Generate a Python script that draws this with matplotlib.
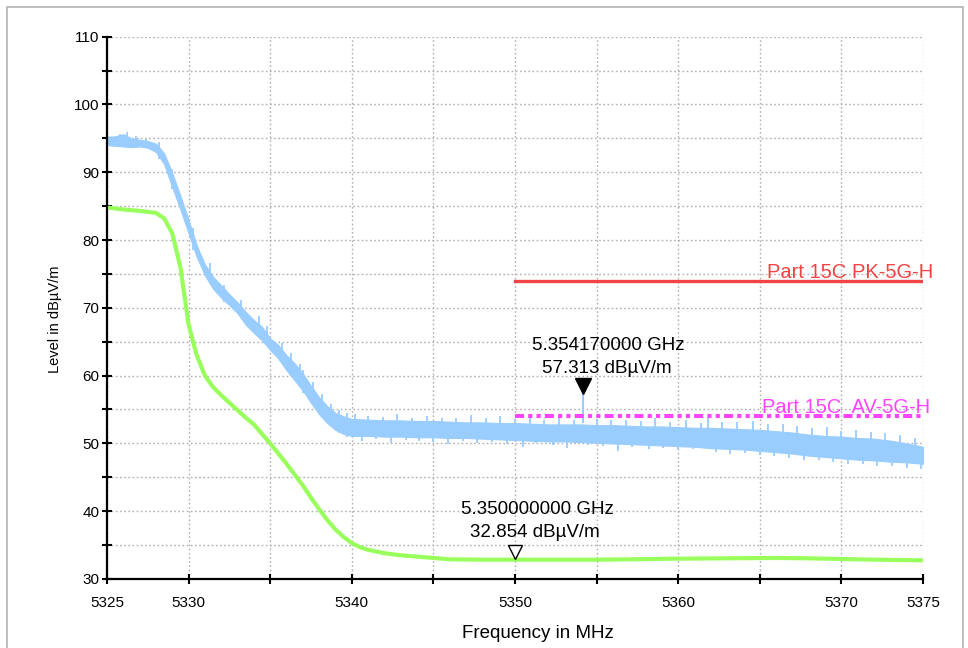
import matplotlib
matplotlib.use('Agg')
import matplotlib.pyplot as plt
from matplotlib.patches import Rectangle
from matplotlib.transforms import offset_copy

# peak trace (blue), read as lower / upper edge of the noise band
pk_freq = [5325, 5325.5, 5326, 5326.5, 5327, 5327.5, 5328, 5328.5, 5329, 5329.5,
           5330, 5330.5, 5331, 5331.5, 5332, 5332.5, 5333, 5333.5, 5334, 5334.5,
           5335, 5335.5, 5336, 5336.5, 5337, 5337.5, 5338, 5338.5, 5339, 5339.5,
           5340, 5341, 5342, 5343, 5344, 5345, 5346, 5347, 5348, 5349,
           5350, 5351, 5352, 5353, 5354, 5355, 5356, 5357, 5358, 5359,
           5360, 5361, 5362, 5363, 5364, 5365, 5366, 5367, 5368, 5369,
           5370, 5371, 5372, 5373, 5374, 5375]
pk_low = [94.0, 93.9, 93.8, 93.7, 93.8, 93.6, 93.0, 91.2, 87.8, 84.5,
          81.0, 77.5, 74.8, 72.8, 71.5, 70.4, 69.2, 67.5, 66.3, 65.2,
          63.8, 62.5, 60.8, 59.3, 57.8, 56.0, 54.3, 53.0, 52.0, 51.4,
          51.1, 51.1, 51.0, 51.0, 50.9, 50.9, 50.8, 50.8, 50.7, 50.6,
          50.5, 50.4, 50.3, 50.3, 50.2, 50.1, 50.0, 49.9, 49.8, 49.7,
          49.6, 49.5, 49.3, 49.2, 49.1, 48.9, 48.7, 48.5, 48.2, 48.0,
          47.8, 47.6, 47.5, 47.3, 47.2, 47.0]
pk_high = [95.2, 95.3, 95.6, 95.0, 94.8, 94.6, 94.2, 92.8, 89.9, 86.5,
           83.0, 79.2, 76.4, 74.6, 73.3, 72.0, 70.8, 69.4, 68.2, 67.2,
           65.5, 64.5, 63.0, 61.8, 60.3, 58.5, 56.8, 55.5, 54.5, 54.0,
           53.6, 53.5, 53.4, 53.4, 53.3, 53.3, 53.2, 53.1, 53.1, 53.0,
           53.0, 52.9, 52.8, 52.8, 52.8, 52.7, 52.7, 52.6, 52.5, 52.5,
           52.4, 52.3, 52.3, 52.2, 52.1, 52.0, 51.8, 51.6, 51.3, 51.1,
           51.0, 50.8, 50.7, 50.4, 50.0, 49.5]

# single spikes sticking out of the band (start, end)
spike_freq = [5325.8, 5326.2, 5326.8, 5327.4, 5328.2, 5329.0, 5330.3, 5331.3, 5332.2,
              5333.2, 5334.3, 5334.8, 5335.7, 5336.3, 5336.8, 5337.0, 5337.6, 5338.2,
              5338.7, 5339.2, 5339.7,
              5340.2, 5340.6, 5341.0, 5341.5, 5341.9, 5342.4, 5342.8, 5343.3, 5343.7,
              5344.1, 5344.6, 5345.0, 5345.5, 5345.9, 5346.4, 5346.8, 5347.3, 5347.7,
              5348.2, 5348.6, 5349.1, 5349.5, 5350.0, 5350.5, 5350.9, 5351.3, 5351.8,
              5352.3, 5352.7, 5353.2, 5353.6, 5354.5, 5355.0, 5355.4, 5355.9, 5356.3,
              5356.8, 5357.2, 5357.7, 5358.2, 5358.6, 5359.1, 5359.5, 5360.0, 5360.5,
              5360.9, 5361.4, 5361.8, 5362.3, 5362.7, 5363.2, 5363.6, 5364.1, 5364.6,
              5365.0, 5365.5, 5365.9, 5366.4, 5366.8, 5367.3, 5367.7, 5368.2, 5368.6,
              5369.1, 5369.5, 5370.0, 5370.4, 5370.9, 5371.3, 5371.8, 5372.2, 5372.7,
              5373.1, 5373.6, 5374.0, 5374.5, 5374.9]
spike_lo = [93.7, 93.8, 93.6, 93.5, 92.0, 87.5, 78.5, 73.5, 70.8,
            68.5, 66.0, 64.6, 62.0, 60.0, 58.8, 57.5, 55.6, 53.8,
            52.5, 51.6, 51.0,
            52.3, 50.4, 52.0, 50.6, 51.9, 50.1, 52.3, 50.5, 51.8,
            50.4, 52.0, 50.2, 51.7, 49.9, 51.8, 50.3, 52.2, 50.1,
            51.7, 50.2, 52.0, 49.9, 51.6, 49.4, 51.9, 50.0, 51.5,
            49.7, 51.8, 49.3, 51.4, 49.7, 51.6, 49.6, 51.4, 48.9,
            51.5, 49.4, 51.3, 49.2, 51.7, 49.3, 51.2, 49.0, 51.4,
            49.1, 51.0, 51.8, 48.7, 51.1, 48.5, 51.2, 48.6, 51.3,
            48.3, 50.8, 48.1, 50.9, 47.9, 50.5, 47.6, 50.3, 47.5,
            50.4, 47.2, 49.9, 46.9, 50.0, 47.0, 49.7, 46.6, 49.5,
            46.7, 49.3, 46.4, 48.8, 46.2]
spike_hi = [95.6, 95.9, 95.3, 94.9, 94.4, 90.5, 81.8, 76.6, 73.4,
            71.1, 68.8, 67.3, 64.8, 63.4, 61.7, 60.8, 59.0, 57.3,
            55.8, 54.9, 54.5,
            54.3, 52.4, 54.0, 52.6, 53.9, 52.1, 54.3, 52.5, 53.8,
            52.4, 54.0, 52.2, 53.7, 51.9, 53.8, 52.3, 54.2, 52.1,
            53.7, 52.2, 54.0, 51.9, 53.6, 51.4, 53.9, 52.0, 53.5,
            51.7, 53.8, 51.3, 53.4, 51.7, 53.6, 51.6, 53.4, 50.9,
            53.5, 51.4, 53.3, 51.2, 53.7, 51.3, 53.2, 51.0, 53.4,
            51.1, 53.0, 53.8, 50.7, 53.1, 50.5, 53.2, 50.6, 53.3,
            50.3, 52.8, 50.1, 52.9, 49.9, 52.5, 49.6, 52.3, 49.5,
            52.4, 49.2, 51.9, 48.9, 52.0, 49.0, 51.7, 48.6, 51.5,
            48.7, 51.3, 48.4, 50.8, 48.2]

# average trace (green)
av_freq = [5325, 5326, 5327, 5328, 5328.5, 5329, 5329.5, 5330, 5330.5, 5331,
           5331.5, 5332, 5332.5, 5333, 5333.5, 5334, 5334.5, 5335, 5335.5, 5336,
           5336.5, 5337, 5337.5, 5338, 5338.5, 5339, 5339.5, 5340, 5340.5, 5341,
           5342, 5343, 5344, 5345, 5346, 5348, 5350, 5352, 5355, 5357,
           5360, 5363, 5366, 5368, 5370, 5372, 5375]
av_level = [84.8, 84.5, 84.3, 84.0, 83.2, 81.0, 76.0, 67.5, 63.0, 60.0,
            58.3, 57.1, 56.0, 54.9, 53.8, 52.8, 51.4, 50.0, 48.5, 47.0,
            45.4, 43.8, 42.0, 40.3, 38.7, 37.3, 36.2, 35.3, 34.7, 34.3,
            33.8, 33.5, 33.3, 33.1, 32.9, 32.85, 32.85, 32.85, 32.85, 32.9,
            33.0, 33.05, 33.1, 33.05, 32.95, 32.85, 32.75]

limit_freq = [5350, 5375]
pk_limit = 74
av_limit = 54

m1_freq, m1_level = 5354.17, 57.313
m2_freq, m2_level = 5350.0, 32.854

x_ticks = [5325, 5330, 5335, 5340, 5345, 5350, 5355, 5360, 5365, 5370, 5375]
x_labels = ['5325', '5330', '', '5340', '', '5350', '', '5360', '', '5370', '5375']
y_ticks = [30, 35, 40, 45, 50, 55, 60, 65, 70, 75, 80, 85, 90, 95, 100, 105, 110]
y_labels = ['30', '', '40', '', '50', '', '60', '', '70', '', '80', '', '90', '', '100', '', '110']

blue = '#99ccff'
green = '#99ff5c'
red = '#f24444'
magenta = '#ff44ff'

plt.rcParams['font.family'] = ['Liberation Sans', 'DejaVu Sans']
plt.rcParams['lines.scale_dashes'] = False

fig = plt.figure(figsize=(9.68, 6.48), dpi=100)
fig.patches.append(Rectangle((7 / 968, -0.02), 956 / 968, 1.02 - 7 / 648,
                             transform=fig.transFigure, fill=False,
                             edgecolor='#b4b4b4', linewidth=1.2))

ax = fig.add_axes([0.1105, 0.1065, 0.843, 0.837])
ax.set_xlim(5325, 5375)
ax.set_ylim(30, 110)

ax.fill_between(pk_freq, pk_low, pk_high, color=blue, linewidth=0.8, zorder=2)
ax.vlines(spike_freq, spike_lo, spike_hi, color=blue, linewidth=1.3, zorder=2)
ax.vlines([m1_freq], [53.0], [m1_level], color=blue, linewidth=1.5, zorder=2)
ax.plot(av_freq, av_level, color=green, linewidth=3, zorder=3)

ax.plot(limit_freq, [pk_limit, pk_limit], color=red, linewidth=2.4, zorder=4)
ax.plot(limit_freq, [av_limit, av_limit], color=magenta, linewidth=2.9,
        linestyle=(0, (6.5, 3, 3, 3, 3, 3)), zorder=4)
ax.text(5365.44, 74.4, 'Part 15C PK-5G-H', color=red, fontsize=14.5,
        ha='left', va='baseline', clip_on=False)
ax.text(5365.13, 54.5, 'Part 15C  AV-5G-H', color=magenta, fontsize=14.5,
        ha='left', va='baseline', clip_on=False)

# markers
up = offset_copy(ax.transData, fig=fig, y=5.5, units='points')
ax.plot([m1_freq], [m1_level], marker='v', markersize=11, color='black',
        transform=up, zorder=5, clip_on=False)
ax.plot([m2_freq], [m2_level], marker='v', markersize=10, markerfacecolor='white',
        markeredgecolor='black', markeredgewidth=1, transform=up, zorder=5)
ax.text(5355.7, 64.5, '5.354170000 GHz', fontsize=13.5, ha='center', va='center')
ax.text(5355.6, 61.1, f'{m1_level:.3f} dBµV/m', fontsize=13.5, ha='center', va='center')
ax.text(5351.4, 40.2, '5.350000000 GHz', fontsize=13.5, ha='center', va='center')
ax.text(5351.2, 36.9, f'{m2_level:.3f} dBµV/m', fontsize=13.5, ha='center', va='center')

ax.set_xticks(x_ticks)
ax.set_xticklabels(x_labels)
ax.set_yticks(y_ticks)
ax.set_yticklabels(y_labels)
ax.tick_params(direction='inout', length=7, width=1.5, labelsize=11, color='black')
ax.tick_params(axis='x', pad=9)
ax.tick_params(axis='y', pad=2)
ax.grid(True, color='#b0b0b0', linewidth=1, linestyle=(0, (1.2, 1.8)))
ax.set_axisbelow(True)
for side in ['top', 'right']:
    ax.spines[side].set_visible(False)
for side in ['left', 'bottom']:
    ax.spines[side].set_linewidth(1.6)
    ax.spines[side].set_zorder(6)

fig.text(538 / 968, 1 - 634 / 648, 'Frequency in MHz', fontsize=13.5, ha='center', va='center')
fig.text(55 / 968, 1 - 319 / 648, 'Level in dBµV/m', fontsize=10.5, rotation=90,
         ha='center', va='center')

fig.savefig('out.png', dpi=100)
